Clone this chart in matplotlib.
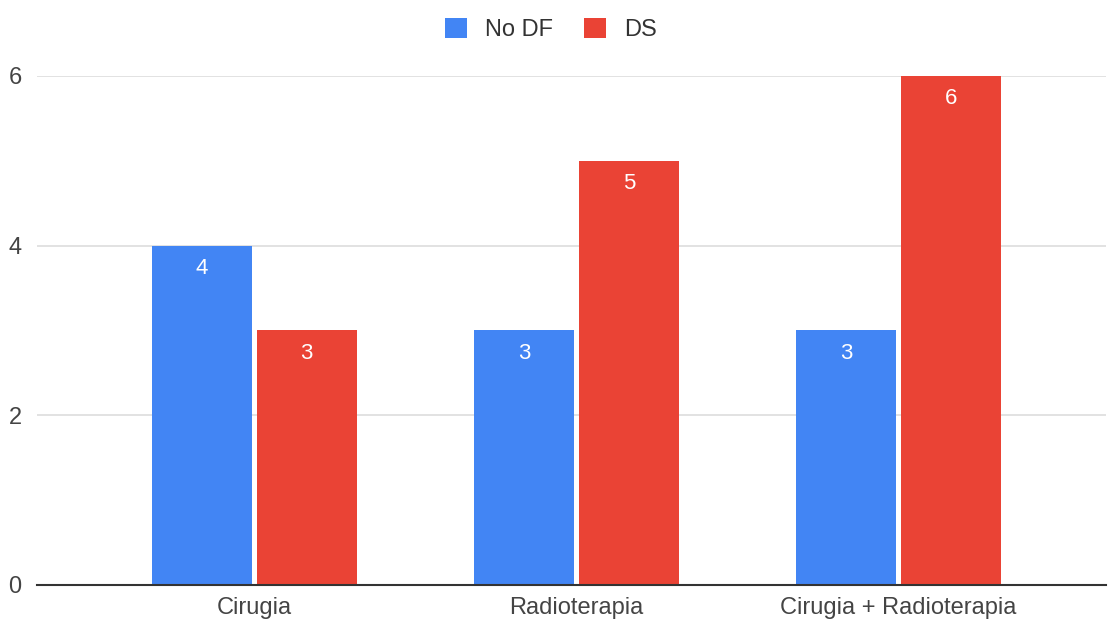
import matplotlib
matplotlib.use("Agg")
import matplotlib.pyplot as plt
import numpy as np

categories = ["Cirugia", "Radioterapia", "Cirugia + Radioterapia"]
no_df = [4, 3, 3]
ds = [3, 5, 6]
series_names = ["No DF", "DS"]
y_ticks = [0, 2, 4, 6]

BLUE = "#4285F4"
RED = "#EA4335"

plt.rcParams["font.family"] = ["Liberation Sans", "DejaVu Sans"]

fig = plt.figure(figsize=(11.08, 6.22), dpi=100)
ax = fig.add_axes([0.0334, 0.0595, 0.9646, 0.8185])

x = np.arange(len(categories))
width = 0.31
off = 0.163
groups = [(no_df, -off, BLUE), (ds, off, RED)]
for (vals, dx, color), name in zip(groups, series_names):
    bars = ax.bar(x + dx, vals, width, color=color, label=name, zorder=3)
    for b, v in zip(bars, vals):
        ax.text(b.get_x() + b.get_width() / 2, v - 0.27, str(v),
                ha="center", va="center", color="white", fontsize=16, zorder=4)

ax.set_xlim(-0.674, 2.643)
ax.set_ylim(0, 6)
ax.set_yticks(y_ticks)
ax.set_xticks(x)
ax.set_xticklabels(categories)
ax.tick_params(axis="both", length=0, labelsize=17, labelcolor="#444444")
ax.tick_params(axis="y", pad=11)
ax.tick_params(axis="x", pad=9)
ax.grid(axis="y", color="#dddddd", linewidth=1.2, zorder=0)
for side in ["top", "right", "left"]:
    ax.spines[side].set_visible(False)
ax.spines["bottom"].set_color("#333333")
ax.spines["bottom"].set_linewidth(1.5)
ax.spines["bottom"].set_zorder(5)

fig.legend(loc="upper center", bbox_to_anchor=(0.497, 1.006), ncol=2, frameon=False,
           fontsize=17, handlelength=0.95, handleheight=0.95, handletextpad=0.75,
           columnspacing=1.3, labelcolor="#333333")

fig.savefig("out.png", dpi=100)
